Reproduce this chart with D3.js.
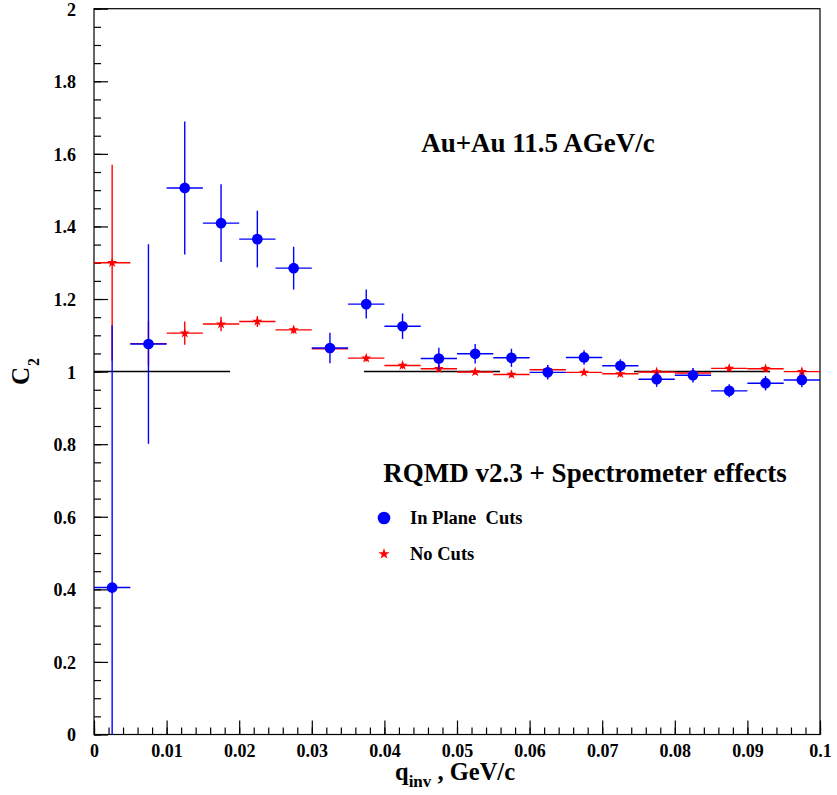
<!DOCTYPE html>
<html><head><meta charset="utf-8">
<script src="https://cdn.jsdelivr.net/npm/d3@7"></script>
<style>body{margin:0;background:#fff}svg{display:block}text{font-family:"Liberation Serif","Times New Roman",serif;font-weight:bold}</style>
</head><body>
<svg id="c" width="837" height="795"></svg>
<script>
// ---- data ----
const qBins = [0.0025,0.0075,0.0125,0.0175,0.0225,0.0275,0.0325,0.0375,0.0425,0.0475,0.0525,0.0575,0.0625,0.0675,0.0725,0.0775,0.0825,0.0875,0.0925,0.0975];
const binHalfWidth = 0.0025;
const inPlaneC2  = [0.405,1.076,1.506,1.409,1.365,1.285,1.065,1.186,1.125,1.036,1.049,1.038,0.998,1.039,1.016,0.979,0.990,0.947,0.968,0.977];
const inPlaneErr = [0.723,0.275,0.183,0.107,0.078,0.059,0.042,0.040,0.035,0.030,0.027,0.025,0.020,0.020,0.018,0.021,0.020,0.018,0.020,0.020];
const noCutsC2   = [1.300,1.077,1.106,1.131,1.138,1.115,1.063,1.037,1.017,1.008,0.999,0.992,1.005,0.998,0.994,0.999,0.996,1.009,1.008,1.000];
const noCutsErr  = [0.270,0.061,0.032,0.020,0.015,0.010,0.010,0.009,0.009,0.008,0.008,0.008,0.008,0.008,0.008,0.008,0.008,0.008,0.008,0.008];
const xMajorTicks = [0,0.01,0.02,0.03,0.04,0.05,0.06,0.07,0.08,0.09,0.1];
const xTickLabels = ["0","0.01","0.02","0.03","0.04","0.05","0.06","0.07","0.08","0.09","0.1"];
const yMajorTicks = [0,0.2,0.4,0.6,0.8,1,1.2,1.4,1.6,1.8,2];
const yTickLabels = ["0","0.2","0.4","0.6","0.8","1","1.2","1.4","1.6","1.8","2"];
const referenceLevel = 1;
const titleText = "Au+Au 11.5 AGeV/c";
const legendTitle = "RQMD v2.3 + Spectrometer effects";
const seriesNames = ["In Plane  Cuts","No Cuts"];

// ---- layout ----
const L = 94, R = 820, T = 8.7, B = 734.5;
const x = d3.scaleLinear().domain([0,0.1]).range([L,R]);
const y = d3.scaleLinear().domain([0,2]).range([B,T]);
const svg = d3.select("#c");

svg.append("defs").append("clipPath").attr("id","clip")
  .append("rect").attr("x",L).attr("y",T).attr("width",R-L).attr("height",B-T);

// frame
svg.append("rect").attr("x",L).attr("y",T).attr("width",R-L).attr("height",B-T)
  .attr("fill","none").attr("stroke","#000").attr("stroke-width",1.2);

// axes
const xMinor = d3.range(0,0.1001,0.002);
const yMinor = d3.range(0,2.001,0.05);
const gx = svg.append("g").attr("transform",`translate(0,${B})`);
gx.call(d3.axisBottom(x).tickValues(xMinor).tickSize(-7).tickFormat(""));
gx.append("g").call(d3.axisBottom(x).tickValues(xMajorTicks).tickSize(-14)
   .tickFormat((d,i)=>xTickLabels[i]));
const gy = svg.append("g").attr("transform",`translate(${L},0)`);
gy.call(d3.axisLeft(y).tickValues(yMinor).tickSize(-7).tickFormat(""));
gy.append("g").call(d3.axisLeft(y).tickValues(yMajorTicks).tickSize(-14)
   .tickFormat((d,i)=>yTickLabels[i]));
svg.selectAll(".domain").remove();
svg.selectAll(".tick line").attr("stroke","#000").attr("stroke-width",1.2);
svg.selectAll(".tick text").attr("font-size",18).attr("fill","#000")
  .attr("font-family","Liberation Serif").attr("font-weight","bold");
gx.selectAll(".tick text").attr("y",22.5).attr("dy",0);
gy.selectAll(".tick text").attr("x",-18).attr("dy","0.36em");

// reference dashed line
svg.append("line").attr("x1",x(0)).attr("x2",x(0.1)).attr("y1",y(referenceLevel)).attr("y2",y(referenceLevel))
  .attr("stroke","#000").attr("stroke-width",1.5).attr("stroke-dasharray","136 134");

const plot = svg.append("g").attr("clip-path","url(#clip)");

function drawSeries(vals, errs, color, symbolType, size){
  const g = plot.append("g");
  qBins.forEach((q,i)=>{
    g.append("line").attr("x1",x(q-binHalfWidth)).attr("x2",x(q+binHalfWidth))
      .attr("y1",y(vals[i])).attr("y2",y(vals[i])).attr("stroke",color).attr("stroke-width",1.4);
    g.append("line").attr("x1",x(q)).attr("x2",x(q))
      .attr("y1",y(vals[i]-errs[i])).attr("y2",y(vals[i]+errs[i])).attr("stroke",color).attr("stroke-width",1.4);
  });
  g.selectAll("path.m").data(qBins).join("path")
    .attr("transform",(q,i)=>`translate(${x(q)},${y(vals[i])})`)
    .attr("d",d3.symbol().type(symbolType).size(size)).attr("fill",color);
}
drawSeries(noCutsC2, noCutsErr, "#ff0000", d3.symbolStar, 32);
drawSeries(inPlaneC2, inPlaneErr, "#0000ff", d3.symbolCircle, 90);

// texts
svg.append("text").attr("x",538).attr("y",152).attr("text-anchor","middle")
  .attr("font-size",27).text(titleText);
svg.append("text").attr("x",585).attr("y",482).attr("text-anchor","middle")
  .attr("font-size",27).text(legendTitle);
svg.append("path").attr("transform","translate(384,518)")
  .attr("d",d3.symbol().type(d3.symbolCircle).size(125)).attr("fill","#0000ff");
svg.append("text").attr("x",410).attr("y",524).attr("font-size",18.5).attr("xml:space","preserve")
  .style("white-space","pre").text(seriesNames[0]);
svg.append("path").attr("transform","translate(384,554)")
  .attr("d",d3.symbol().type(d3.symbolStar).size(40)).attr("fill","#ff0000");
svg.append("text").attr("x",410).attr("y",560).attr("font-size",18.5).text(seriesNames[1]);

// axis titles
const xt = svg.append("text").attr("x",395).attr("y",780).attr("font-size",24.5);
xt.append("tspan").text("q");
xt.append("tspan").attr("font-size",17).attr("dy",7).text("inv");
xt.append("tspan").attr("dy",-7).attr("xml:space","preserve").style("white-space","pre").text(" , GeV/c");

const yt = svg.append("text").attr("transform","translate(28.5,385) rotate(-90)").attr("font-size",25);
yt.append("tspan").text("C");
yt.append("tspan").attr("font-size",16).attr("dy",10).attr("dx",1).text("2");
</script>
</body></html>
